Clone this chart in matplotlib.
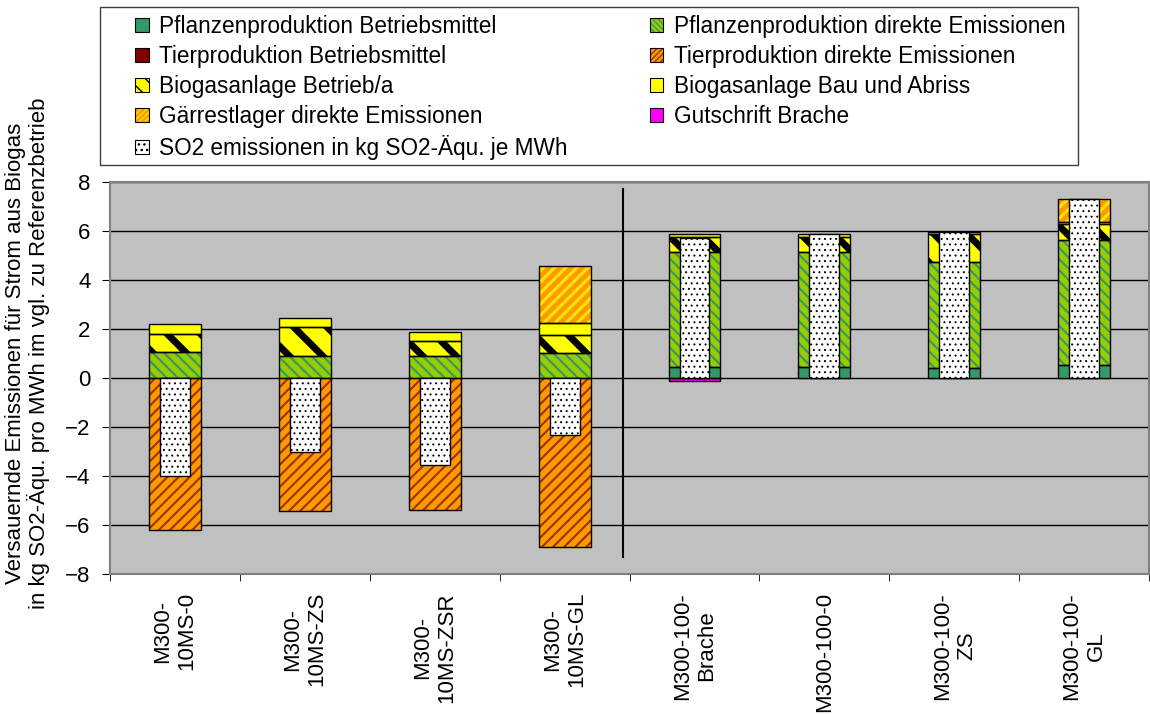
import matplotlib.pyplot as plt
import numpy as np
from matplotlib.patches import Patch, Rectangle

plt.rcParams['font.family'] = ['Liberation Sans', 'DejaVu Sans']

szenarien = ['M300-\n10MS-0', 'M300-\n10MS-ZS', 'M300-\n10MS-ZSR', 'M300-\n10MS-GL',
             'M300-100-\nBrache', 'M300-100-0', 'M300-100-\nZS', 'M300-100-\nGL']

pflanzen_bm = [0, 0, 0, 0, 0.47, 0.47, 0.40, 0.53]
pflanzen_de = [1.08, 0.90, 0.90, 1.01, 4.67, 4.67, 4.33, 5.10]
tier_bm = [0, 0, 0, 0, 0, 0, 0, 0]
tier_de = [-6.22, -5.44, -5.37, -6.89, 0, 0, 0, 0]
bga_betrieb = [0.70, 1.18, 0.60, 0.76, 0.63, 0.61, 1.16, 0.64]
bga_bau = [0.44, 0.37, 0.36, 0.49, 0.12, 0.15, 0.08, 0.11]
gaerrest = [0, 0, 0, 2.32, 0, 0, 0, 0.94]
brache = [0, 0, 0, 0, -0.10, 0, 0, 0]
so2_gesamt = [-4.0, -3.0, -3.55, -2.31, 5.72, 5.90, 5.96, 7.32]

# label, values, face, hatch, hatch colour, hatch linewidth
reihen = [
    ('Pflanzenproduktion Betriebsmittel', pflanzen_bm, '#339966', None, '#339966', 1),
    ('Pflanzenproduktion direkte Emissionen', pflanzen_de, '#99CC00', '\\\\\\', '#339966', 1.5),
    ('Tierproduktion Betriebsmittel', tier_bm, '#800000', None, '#800000', 1),
    ('Tierproduktion direkte Emissionen', tier_de, '#FF9900', '///', '#993300', 1.5),
    ('Biogasanlage Betrieb/a', bga_betrieb, '#FFFF00', '\\', '#000000', 5),
    ('Biogasanlage Bau und Abriss', bga_bau, '#FFFF00', None, '#FFFF00', 1),
    ('Gärrestlager direkte Emissionen', gaerrest, '#FF9900', '///', '#FFE600', 2.2),
    ('Gutschrift Brache', brache, '#FF00FF', None, '#FF00FF', 1),
]


def set_hlw(patches, lw):
    for p in patches:
        if hasattr(p, 'set_hatch_linewidth'):
            p.set_hatch_linewidth(lw)


fig = plt.figure(figsize=(11.5, 7.14), dpi=100)
ax = fig.add_axes([0.0957, 0.196, 0.9035, 0.549])
ax.set_facecolor('#C0C0C0')

x = np.arange(len(szenarien))
pos = np.zeros(len(x))
neg = np.zeros(len(x))
handles = {}
for name, vals, fc, hatch, hc, hlw in reihen:
    v = np.array(vals, dtype=float)
    bottom = np.where(v >= 0, pos, neg)
    m = v != 0
    with plt.rc_context({'hatch.linewidth': hlw}):
        b = ax.bar(x[m], v[m], 0.4, bottom=bottom[m], color=fc, hatch=hatch,
                   edgecolor=hc, linewidth=0, zorder=3)
        set_hlw(b, hlw)
        ax.bar(x[m], v[m], 0.4, bottom=bottom[m], fill=False, edgecolor='black',
               linewidth=1, zorder=4)
        # legend squares are small, so thinner / denser stripes there
        hp = Patch(facecolor=fc, hatch=hatch * 2 if hatch else None, edgecolor=hc,
                   linewidth=0)
        set_hlw([hp], min(hlw, 2.5))
    handles[name] = (hp, Patch(fill=False, edgecolor='black', linewidth=0.8))
    pos += np.clip(v, 0, None)
    neg += np.clip(v, None, 0)

with plt.rc_context({'hatch.linewidth': 0.7}):
    so2 = ax.bar(x, so2_gesamt, 0.23, color='white', hatch='...', edgecolor='black',
                 linewidth=1, zorder=5)
    set_hlw(so2, 0.7)
    so2_h = Patch(facecolor='white', hatch='...', edgecolor='black', linewidth=0.8)
    set_hlw([so2_h], 0.7)

# separator between the two groups
trenn_x = 3.45
ax.plot([trenn_x, trenn_x], [-7.3, 7.7], color='black', lw=1.5, zorder=6)

ax.set_xlim(-0.5, 7.5)
ax.set_ylim(-8, 8)
ax.set_yticks(np.arange(-8, 9, 2))
ax.yaxis.grid(True, color='black', lw=1)
ax.set_axisbelow(True)
ax.tick_params(axis='y', labelsize=16, length=6, direction='out', pad=8)
ax.set_xticks(x)
ax.set_xticklabels(szenarien, rotation=90, fontsize=16, va='top', ha='center',
                   multialignment='center')
ax.tick_params(axis='x', length=0, pad=13)
ax.set_xticks(np.arange(-0.5, 8, 1), minor=True)
ax.tick_params(axis='x', which='minor', length=5, direction='out')
for s in ax.spines.values():
    s.set_color('#808080')
    s.set_linewidth(1.5)

fig.text(0.024, 0.505,
         'Versauernde Emissionen für Strom aus Biogas\nin kg SO2-Äqu. pro MWh im vgl. zu Referenzbetrieb',
         rotation=90, ha='center', va='center', multialignment='center', fontsize=16,
         linespacing=1.05)

# legend box
fig.patches.append(Rectangle((100 / 1150, 1 - 165 / 714), 978 / 1150, 158 / 714,
                             transform=fig.transFigure, fill=False,
                             edgecolor='#404040', linewidth=1))
order = [r[0] for r in reihen]
col1 = [order[0], order[2], order[4], order[6]]
col2 = [order[1], order[3], order[5], order[7]]
h = [handles[n] for n in col1] + [so2_h] + [handles[n] for n in col2]
lab = col1 + ['SO2 emissionen in kg SO2-Äqu. je MWh'] + col2
fig.legend(h, lab, ncol=2, loc='upper left', bbox_to_anchor=(135 / 1150, 1 - 15 / 714),
           frameon=False, fontsize=16.3, handlelength=0.6, handleheight=0.6,
           handletextpad=0.45, labelspacing=0.31, columnspacing=3.65, borderpad=0,
           borderaxespad=0)

fig.savefig('out.png', dpi=100)
